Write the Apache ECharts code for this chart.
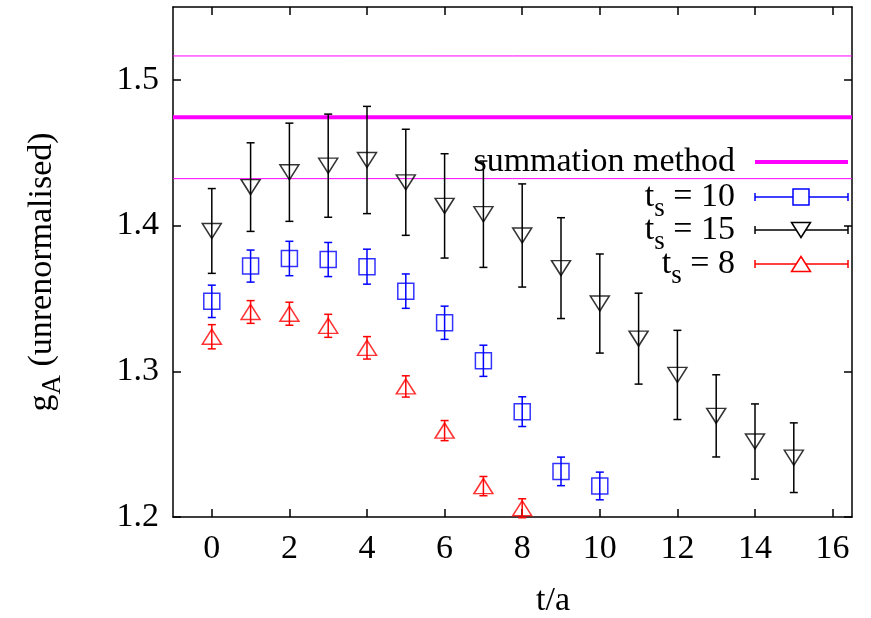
<!DOCTYPE html>
<html>
<head>
<meta charset="utf-8">
<script src="https://cdn.jsdelivr.net/npm/echarts@6/dist/echarts.min.js"></script>
<style>html,body{margin:0;padding:0;background:#fff;}#c{width:871px;height:618px;}</style>
</head>
<body>
<div id="c"></div>
<script>
// ---- data ----
const xTicks = [0, 2, 4, 6, 8, 10, 12, 14, 16];
const yTicks = [1.2, 1.3, 1.4, 1.5];

const t15 = [0,1,2,3,4,5,6,7,8,9,10,11,12,13,14,15];
const g15 = [1.3963,1.4264,1.4366,1.4411,1.4450,1.4297,1.4135,1.4078,1.3932,1.3708,1.3465,1.3224,1.2975,1.2694,1.2518,1.2407];
const e15 = [0.0291,0.0304,0.0337,0.0354,0.0368,0.0364,0.0358,0.0365,0.0354,0.0346,0.0340,0.0312,0.0306,0.0282,0.0258,0.0239];

const t10 = [0,1,2,3,4,5,6,7,8,9,10];
const g10 = [1.3480,1.3722,1.3774,1.3767,1.3718,1.3550,1.3333,1.3072,1.2723,1.2313,1.2213];
const e10 = [0.0111,0.0110,0.0118,0.0117,0.0120,0.0118,0.0114,0.0107,0.0102,0.0098,0.0095];

const t8 = [0,1,2,3,4,5,6,7,8];
const g8 = [1.3237,1.3407,1.3395,1.3312,1.3161,1.2896,1.2593,1.2212,1.2060];
const e8 = [0.0083,0.0078,0.0079,0.0079,0.0077,0.0073,0.0069,0.0066,0.0065];

const summationMean = 1.4743;
const summationErr = 0.0421;
const xRange = [-1, 16.5];
const yRange = [1.2, 1.55];

// ---- chart ----
const FONT = '"Liberation Serif", "Times New Roman", serif';
const FS = 34;
const SFS = 27;
const chart = echarts.init(document.getElementById('c'), null, {renderer: 'canvas'});

function zip3(a, b, c) { return a.map((v, i) => [v, b[i], c[i]]); }
function zip2(a, b) { return a.map((v, i) => [v, b[i]]); }

function errBar(color) {
  return function (params, api) {
    const x = api.value(0), y = api.value(1), e = api.value(2);
    const p1 = api.coord([x, y + e]);
    const p2 = api.coord([x, y - e]);
    const hw = 4;
    const st = {stroke: color, lineWidth: 1.5};
    return {
      type: 'group',
      children: [
        {type: 'line', shape: {x1: p1[0], y1: p1[1], x2: p2[0], y2: p2[1]}, style: st},
        {type: 'line', shape: {x1: p1[0] - hw, y1: p1[1], x2: p1[0] + hw, y2: p1[1]}, style: st},
        {type: 'line', shape: {x1: p2[0] - hw, y1: p2[1], x2: p2[0] + hw, y2: p2[1]}, style: st}
      ]
    };
  };
}

const axisCommon = {
  axisLine: {show: true, onZero: false, lineStyle: {color: '#000', width: 1.5}},
  axisTick: {show: true, inside: true, length: 8, lineStyle: {color: '#000', width: 1.5}},
  splitLine: {show: false}
};

const option = {
  animation: false,
  backgroundColor: '#fff',
  grid: {left: 173, right: 19, top: 7, bottom: 101, containLabel: false},
  xAxis: [
    Object.assign({}, axisCommon, {
      type: 'value', position: 'bottom', min: xRange[0], max: xRange[1],
      axisTick: Object.assign({}, axisCommon.axisTick, {customValues: xTicks}),
      axisLabel: {customValues: xTicks, color: '#000', fontFamily: FONT, fontSize: FS, margin: 15,
        formatter: v => String(v)}
    }),
    Object.assign({}, axisCommon, {
      type: 'value', position: 'top', min: xRange[0], max: xRange[1],
      axisTick: Object.assign({}, axisCommon.axisTick, {customValues: xTicks}),
      axisLabel: {show: false}
    })
  ],
  yAxis: [
    Object.assign({}, axisCommon, {
      type: 'value', position: 'left', min: yRange[0], max: yRange[1],
      axisTick: Object.assign({}, axisCommon.axisTick, {customValues: yTicks}),
      axisLabel: {customValues: yTicks, color: '#000', fontFamily: FONT, fontSize: FS, margin: 14,
        formatter: v => v.toFixed(1)}
    }),
    Object.assign({}, axisCommon, {
      type: 'value', position: 'right', min: yRange[0], max: yRange[1],
      axisTick: Object.assign({}, axisCommon.axisTick, {customValues: yTicks}),
      axisLabel: {show: false}
    })
  ],
  series: [
    {type: 'line', name: 'summation upper', data: [[xRange[0], summationMean + summationErr], [xRange[1], summationMean + summationErr]],
      showSymbol: false, lineStyle: {color: '#ff00ff', width: 1}, z: 1},
    {type: 'line', name: 'summation method', data: [[xRange[0], summationMean], [xRange[1], summationMean]],
      showSymbol: false, lineStyle: {color: '#ff00ff', width: 4}, z: 1},
    {type: 'line', name: 'summation lower', data: [[xRange[0], summationMean - summationErr], [xRange[1], summationMean - summationErr]],
      showSymbol: false, lineStyle: {color: '#ff00ff', width: 1}, z: 1},

    {type: 'custom', name: 'ts10 err', renderItem: errBar('#0000ff'), data: zip3(t10, g10, e10), z: 3},
    {type: 'scatter', name: 't_s = 10', data: zip2(t10, g10), symbol: 'rect', symbolSize: 16,
      itemStyle: {color: 'rgba(0,0,0,0)', borderColor: '#0000ff', borderWidth: 1.5}, z: 4},

    {type: 'custom', name: 'ts15 err', renderItem: errBar('#000000'), data: zip3(t15, g15, e15), z: 3},
    {type: 'scatter', name: 't_s = 15', data: zip2(t15, g15), symbol: 'triangle', symbolRotate: 180, symbolSize: [19, 15],
      itemStyle: {color: 'rgba(0,0,0,0)', borderColor: '#000000', borderWidth: 1.5}, z: 4},

    {type: 'custom', name: 'ts8 err', renderItem: errBar('#ff0000'), data: zip3(t8, g8, e8), z: 3},
    {type: 'scatter', name: 't_s = 8', data: zip2(t8, g8), symbol: 'triangle', symbolSize: [19, 15],
      itemStyle: {color: 'rgba(0,0,0,0)', borderColor: '#ff0000', borderWidth: 1.5}, z: 4}
  ],
  graphic: []
};

// legend and axis titles
const txtBase = {fontFamily: FONT, fontSize: FS, fill: '#000'};
const rich = {
  m: {fontFamily: FONT, fontSize: FS, lineHeight: 50, verticalAlign: 'middle', color: '#000'},
  s: {fontFamily: FONT, fontSize: SFS, lineHeight: 28, verticalAlign: 'bottom', color: '#000'}
};
const lx1 = 755, lx2 = 848, lmx = 801, ltx = 735;
const legendRows = [
  {y: 162, label: '{m|summation method}', kind: 'line', color: '#ff00ff'},
  {y: 197, label: '{m|t}{s|s}{m| = 10}', kind: 'rect', color: '#0000ff'},
  {y: 230, label: '{m|t}{s|s}{m| = 15}', kind: 'down', color: '#000000'},
  {y: 264, label: '{m|t}{s|s}{m| = 8}', kind: 'up', color: '#ff0000'}
];
legendRows.forEach(r => {
  option.graphic.push({type: 'text', x: ltx, y: r.y, z: 10,
    style: Object.assign({}, txtBase, {text: r.label, rich: rich, align: 'right', verticalAlign: 'middle'})});
  if (r.kind === 'line') {
    option.graphic.push({type: 'line', z: 10, shape: {x1: lx1, y1: r.y, x2: lx2, y2: r.y}, style: {stroke: r.color, lineWidth: 4}});
  } else {
    const st = {stroke: r.color, lineWidth: 1.5};
    option.graphic.push({type: 'line', z: 10, shape: {x1: lx1, y1: r.y, x2: lx2, y2: r.y}, style: st});
    option.graphic.push({type: 'line', z: 10, shape: {x1: lx1, y1: r.y - 4, x2: lx1, y2: r.y + 4}, style: st});
    option.graphic.push({type: 'line', z: 10, shape: {x1: lx2, y1: r.y - 4, x2: lx2, y2: r.y + 4}, style: st});
    if (r.kind === 'rect') {
      option.graphic.push({type: 'rect', z: 11, shape: {x: lmx - 8, y: r.y - 8, width: 16, height: 16},
        style: {fill: '#fff', stroke: r.color, lineWidth: 1.5}});
    } else if (r.kind === 'down') {
      option.graphic.push({type: 'polygon', z: 11, shape: {points: [[lmx - 9.5, r.y - 7.5], [lmx + 9.5, r.y - 7.5], [lmx, r.y + 7.5]]},
        style: {fill: '#fff', stroke: r.color, lineWidth: 1.5}});
    } else {
      option.graphic.push({type: 'polygon', z: 11, shape: {points: [[lmx - 9.5, r.y + 7.5], [lmx + 9.5, r.y + 7.5], [lmx, r.y - 7.5]]},
        style: {fill: '#fff', stroke: r.color, lineWidth: 1.5}});
    }
  }
});
// x axis title
option.graphic.push({type: 'text', x: 553, y: 601, z: 10,
  style: Object.assign({}, txtBase, {text: 't/a', align: 'center', verticalAlign: 'middle'})});
// y axis title (rotated)
option.graphic.push({type: 'text', x: 42, y: 272, rotation: Math.PI / 2, z: 10,
  style: Object.assign({}, txtBase, {text: '{m|g}{s|A}{m| (unrenormalised)}',
    rich: {
      m: {fontFamily: FONT, fontSize: FS, lineHeight: 48, verticalAlign: 'middle', color: '#000'},
      s: {fontFamily: FONT, fontSize: SFS, lineHeight: 28, verticalAlign: 'bottom', color: '#000'}
    },
    align: 'center', verticalAlign: 'middle'})});

chart.setOption(option);
</script>
</body>
</html>
